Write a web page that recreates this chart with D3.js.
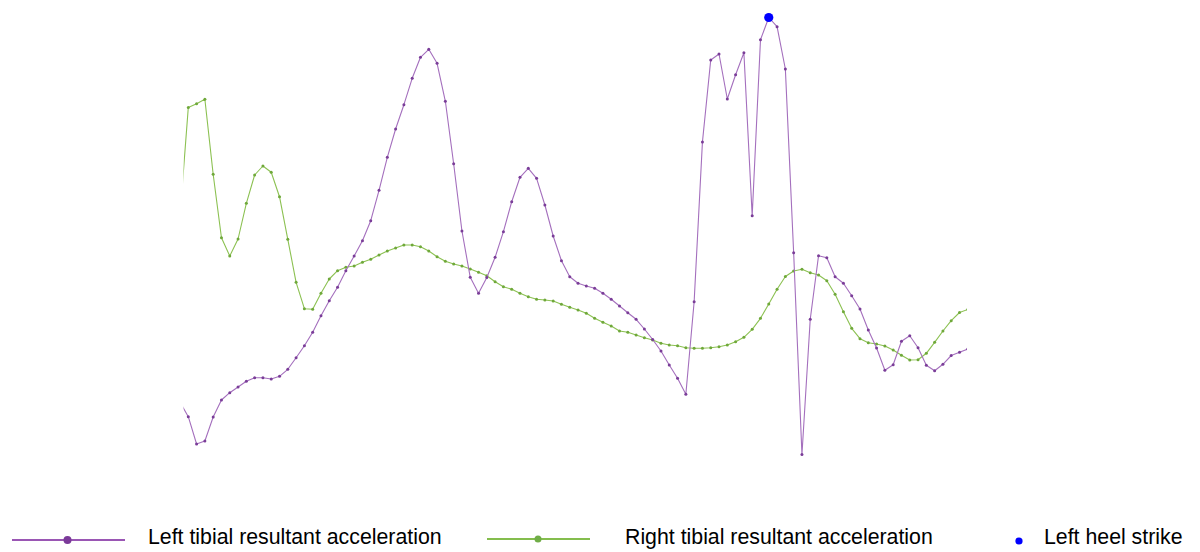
<!DOCTYPE html>
<html>
<head>
<meta charset="utf-8">
<script src="https://cdn.jsdelivr.net/npm/d3@7"></script>
<style>
  html, body { margin: 0; padding: 0; background: #ffffff; }
  svg { display: block; }
  text { font-family: "Liberation Sans", Arial, sans-serif; fill: #000; }
</style>
</head>
<body>
<svg id="chart" width="1200" height="552"></svg>
<script>
// Gait cycle samples (frame index) shared by both tibial sensors
const frames = d3.range(-1, 95);

// Left tibial resultant acceleration (m/s²)
const leftTibial = [
  7.8, 6.33, 3.6, 3.9, 6.3, 8.0, 8.73, 9.3, 9.87, 10.23,
  10.23, 10.1, 10.37, 11.07, 12.23, 13.43, 14.77, 16.43, 17.93, 19.27,
  20.93, 22.4, 23.93, 25.93, 28.97, 32.27, 35.1, 37.53, 40.17, 42.27,
  43.07, 41.67, 37.87, 31.63, 24.9, 20.27, 18.67, 20.25, 22.27, 24.83,
  27.83, 30.27, 31.17, 30.17, 27.5, 24.4, 21.93, 20.33, 19.67, 19.4,
  19.17, 18.67, 18.07, 17.4, 16.73, 16.07, 15.1, 14.05, 12.9, 11.5,
  10.17, 8.57, 17.83, 33.8, 42.0, 42.6, 38.1, 40.53, 42.73, 26.43,
  44.03, 46.25, 45.33, 41.1, 22.73, 2.55, 16.07, 22.43, 22.23, 20.33,
  19.67, 18.43, 17.1, 15.0, 13.2, 10.97, 11.53, 13.87, 14.43, 13.23,
  11.47, 10.93, 11.57, 12.45, 12.77, 13.1
];

// Right tibial resultant acceleration (m/s²)
const rightTibial = [
  26.4, 37.25, 37.63, 38.07, 30.57, 24.23, 22.4, 24.1, 27.67, 30.5,
  31.4, 30.77, 28.33, 24.07, 19.77, 17.13, 17.07, 18.67, 20.1, 20.93,
  21.27, 21.4, 21.77, 22.07, 22.5, 22.9, 23.2, 23.5, 23.5, 23.33,
  22.9, 22.33, 21.87, 21.6, 21.4, 21.1, 20.77, 20.43, 19.83, 19.33,
  19.07, 18.67, 18.33, 18.07, 18.0, 17.9, 17.57, 17.27, 17.0, 16.67,
  16.17, 15.77, 15.4, 14.9, 14.77, 14.5, 14.23, 14.0, 13.67, 13.5,
  13.43, 13.23, 13.17, 13.17, 13.23, 13.33, 13.5, 13.83, 14.27, 15.07,
  16.17, 17.6, 19.07, 20.35, 20.9, 21.07, 20.73, 20.5, 19.93, 18.57,
  16.83, 15.17, 14.13, 13.73, 13.6, 13.4, 13.0, 12.47, 12.0, 12.03,
  12.67, 13.77, 14.9, 15.93, 16.75, 17.05
];

// Left heel strike event
const heelStrikeFrame = [70];
const heelStrikeValue = [46.25];

// Legend labels
const legendLabels = [
  "Left tibial resultant acceleration",
  "Right tibial resultant acceleration",
  "Left heel strike"
];

const svg = d3.select("#chart");

const x = d3.scaleLinear().domain([-1, 94]).range([180, 967.8]);
const y = d3.scaleLinear().domain([0, 48]).range([480, 0]);

svg.append("defs").append("clipPath").attr("id", "plot-clip")
  .append("rect").attr("x", 183.5).attr("y", 0).attr("width", 783.5).attr("height", 500);

const plot = svg.append("g").attr("clip-path", "url(#plot-clip)");

const seriesDefs = [
  { values: leftTibial, line: "#a46fbd", marker: "#7a3d98" },
  { values: rightTibial, line: "#8cc152", marker: "#6fa83a" }
];

const line = d3.line()
  .x(d => x(d[0]))
  .y(d => y(d[1]));

// Draw the right series first so the left series sits on top
[seriesDefs[1], seriesDefs[0]].forEach(s => {
  const pts = frames.map((f, i) => [f, s.values[i]]);
  plot.append("path")
    .datum(pts)
    .attr("fill", "none")
    .attr("stroke", s.line)
    .attr("stroke-width", 1.1)
    .attr("stroke-linejoin", "round")
    .attr("d", line);
  plot.append("g").selectAll("circle")
    .data(pts)
    .join("circle")
    .attr("cx", d => x(d[0]))
    .attr("cy", d => y(d[1]))
    .attr("r", 1.5)
    .attr("fill", s.marker);
});

// Heel strike marker
svg.append("g").selectAll("circle")
  .data(heelStrikeFrame.map((f, i) => [f, heelStrikeValue[i]]))
  .join("circle")
  .attr("cx", d => x(d[0]))
  .attr("cy", d => y(d[1]))
  .attr("r", 4.6)
  .attr("fill", "#0000ff");

// Legend
const legend = svg.append("g");
const legendY = 540;
const legendFont = 21.3;

// Left tibial entry
legend.append("line").attr("x1", 12).attr("x2", 125).attr("y1", legendY).attr("y2", legendY)
  .attr("stroke", "#9a56b4").attr("stroke-width", 2);
legend.append("circle").attr("cx", 67.5).attr("cy", legendY).attr("r", 4).attr("fill", "#7b3a99");
legend.append("text").attr("x", 148).attr("y", 543.5).attr("font-size", legendFont).text(legendLabels[0]);

// Right tibial entry
legend.append("line").attr("x1", 487).attr("x2", 590).attr("y1", legendY - 1).attr("y2", legendY - 1)
  .attr("stroke", "#84bd4d").attr("stroke-width", 2);
legend.append("circle").attr("cx", 538).attr("cy", legendY - 1).attr("r", 3.5).attr("fill", "#70ad47");
legend.append("text").attr("x", 625).attr("y", 543.5).attr("font-size", legendFont).text(legendLabels[1]);

// Heel strike entry
legend.append("circle").attr("cx", 1019).attr("cy", legendY + 1).attr("r", 3.6).attr("fill", "#0000ff");
legend.append("text").attr("x", 1044).attr("y", 543.5).attr("font-size", legendFont).text(legendLabels[2]);
</script>
</body>
</html>
